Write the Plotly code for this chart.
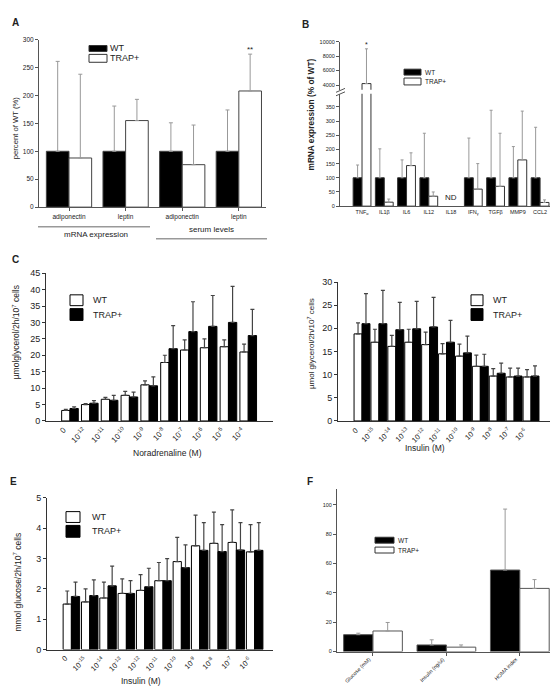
import plotly.graph_objects as go

W, H = 558, 686
FONT = "Liberation Sans, Arial, sans-serif"

# ---------------- DATA ----------------
# Panel A
a_cats = ["adiponectin", "leptin", "adiponectin", "leptin"]
a_wt = [100, 100, 100, 100]
a_wt_up = [261, 181, 151, 174]
a_tr = [88, 155, 76, 208]
a_tr_up = [238, 193, 147, 274]

# Panel B
b_cats = ["TNF<sub>α</sub>", "IL1β", "IL6", "IL12", "IL18", "IFN<sub>γ</sub>", "TGFβ", "MMP9", "CCL2"]
b_wt = [100, 100, 100, 100, None, 100, 100, 100, 100]
b_wt_up = [145, 202, 163, 257, None, 240, 338, 210, 278]
b_tr = [4200, 14, 143, 35, None, 60, 70, 163, 13]
b_tr_up = [9000, 25, 188, 50, None, 150, 257, 335, 22]
b_low_ticks = [0, 50, 100, 150, 200, 250, 300, 350]
b_up_ticks = [4000, 6000, 8000, 10000]

# Panel C
c_cats = ["0", "10<sup>-12</sup>", "10<sup>-11</sup>", "10<sup>-10</sup>", "10<sup>-9</sup>",
          "10<sup>-8</sup>", "10<sup>-7</sup>", "10<sup>-6</sup>", "10<sup>-5</sup>", "10<sup>-4</sup>"]
c_wt = [3.2, 5.0, 6.6, 7.8, 11.0, 17.8, 21.6, 22.3, 22.6, 21.0]
c_wt_up = [3.5, 5.3, 7.2, 9.0, 12.2, 20.0, 24.7, 25.0, 24.7, 23.4]
c_tr = [3.8, 5.4, 6.3, 7.3, 10.7, 22.0, 27.2, 28.8, 30.0, 26.0]
c_tr_up = [4.3, 6.2, 7.8, 8.8, 13.4, 29.0, 36.3, 38.2, 41.0, 34.0]

# Panel D
d_cats = ["0", "10<sup>-15</sup>", "10<sup>-14</sup>", "10<sup>-13</sup>", "10<sup>-12</sup>", "10<sup>-11</sup>",
          "10<sup>-10</sup>", "10<sup>-9</sup>", "10<sup>-8</sup>", "10<sup>-7</sup>", "10<sup>-6</sup>"]
d_wt = [18.8, 17.0, 16.1, 17.0, 16.5, 14.5, 14.0, 11.8, 9.7, 9.5, 9.5]
d_wt_up = [21.2, 19.8, 18.5, 19.8, 19.2, 16.7, 16.6, 14.2, 11.3, 11.4, 11.1]
d_tr = [21.0, 21.0, 19.7, 19.9, 20.3, 17.0, 14.7, 11.8, 10.3, 9.7, 9.7]
d_tr_up = [27.5, 28.2, 25.6, 25.8, 26.7, 21.7, 18.3, 14.4, 12.5, 11.4, 11.9]

# Panel E
e_cats = d_cats
e_wt = [1.5, 1.57, 1.7, 1.85, 1.95, 2.27, 2.9, 3.42, 3.5, 3.53, 3.22]
e_wt_up = [1.93, 2.0, 2.22, 2.33, 2.47, 2.87, 3.7, 4.43, 4.53, 4.6, 4.12]
e_tr = [1.75, 1.78, 2.1, 1.85, 2.07, 2.27, 2.7, 3.27, 3.23, 3.28, 3.27]
e_tr_up = [2.22, 2.3, 2.75, 2.27, 2.68, 3.0, 3.45, 4.18, 4.12, 4.18, 4.18]

# Panel F
f_cats = ["Glucose (mM)", "Insulin (ng/ul)", "HOMA index"]
f_wt = [11.5, 4.5, 55.5]
f_wt_up = [12.5, 8.0, 97.0]
f_tr = [14.0, 3.0, 43.0]
f_tr_up = [19.8, 4.5, 49.0]


# ---------------- helpers ----------------
def px(x):
    return x / W


def py(y):
    return 1 - y / H


def err(vals, ups):
    return [None if v is None else u - v for v, u in zip(vals, ups)]


fig = go.Figure()


def bars(xa, ya, vals, ups, w, left, fill, line, ecol, ethick=1, ecap=2, lw=1):
    n = len(vals)
    fig.add_trace(go.Bar(
        x=list(range(n)), y=vals, width=w, offset=-w if left else 0,
        marker=dict(color=fill, line=dict(color=line, width=lw)),
        error_y=dict(type="data", symmetric=False, array=err(vals, ups),
                     arrayminus=[0] * n, color=ecol, thickness=ethick, width=ecap),
        xaxis=xa, yaxis=ya, showlegend=False, hoverinfo="skip"))


# A
bars("x", "y", a_wt, a_wt_up, 0.4, True, "black", "#444", "#999")
bars("x", "y", a_tr, a_tr_up, 0.4, False, "white", "#444", "#999")
# B lower & upper
for ya in ["y2", "y3"]:
    bars("x2", ya, b_wt, b_wt_up, 0.4, True, "black", "#333", "#999", ecap=1.5)
    bars("x2", ya, b_tr, b_tr_up, 0.4, False, "white", "#333", "#999", ecap=1.5)
# C
bars("x4", "y4", c_wt, c_wt_up, 0.42, True, "white", "black", "#444", 1.2, 2)
bars("x4", "y4", c_tr, c_tr_up, 0.42, False, "black", "black", "#444", 1.2, 2)
# D
bars("x5", "y5", d_wt, d_wt_up, 0.47, True, "white", "black", "#444", 1.2, 2)
bars("x5", "y5", d_tr, d_tr_up, 0.47, False, "black", "black", "#444", 1.2, 2)
# E
bars("x6", "y6", e_wt, e_wt_up, 0.45, True, "white", "black", "#444", 1.2, 2)
bars("x6", "y6", e_tr, e_tr_up, 0.45, False, "black", "black", "#444", 1.2, 2)
# F
bars("x7", "y7", f_wt, f_wt_up, 0.4, True, "black", "#555", "#999", ecap=2)
bars("x7", "y7", f_tr, f_tr_up, 0.4, False, "white", "#555", "#999", ecap=2)


def xax(dom, rng, anchor, ticktext, size, show=True, ticks="", lc="#333"):
    return dict(domain=[px(dom[0]), px(dom[1])], range=rng, anchor=anchor,
                tickmode="array", tickvals=list(range(len(ticktext))), ticktext=ticktext,
                showticklabels=show, tickfont=dict(size=size, color="#222", family=FONT),
                showline=True, linecolor=lc, linewidth=1, ticks=ticks, ticklen=3,
                tickcolor=lc, showgrid=False, zeroline=False, fixedrange=True)


def yax(dom, rng, anchor, tickvals, size, lc="#333"):
    return dict(domain=[py(dom[1]), py(dom[0])], range=rng, anchor=anchor,
                tickmode="array", tickvals=tickvals, ticktext=[str(v) for v in tickvals],
                tickfont=dict(size=size, color="#222", family=FONT),
                showline=True, linecolor=lc, linewidth=1, ticks="outside", ticklen=3,
                tickcolor=lc, showgrid=False, zeroline=False, fixedrange=True)


layout = dict(
    width=W, height=H, margin=dict(l=0, r=0, t=0, b=0),
    paper_bgcolor="white", plot_bgcolor="white", barmode="overlay",
    font=dict(family=FONT, color="#222"),
    xaxis=xax([31, 258], [-0.53, 3.48], "y", a_cats, 6.5, True, "outside", "#555"),
    yaxis=yax([27, 197], [0, 300], "x", [0, 50, 100, 150, 200, 250, 300], 6.5, "#555"),
    xaxis2=xax([332, 555], [-0.99, 9.03], "y2", b_cats, 5.5, True, "", "#555"),
    yaxis2=yax([82, 196], [0, 396], "x2", b_low_ticks, 5.5, "#555"),
    yaxis3=yax([29, 78], [3333, 10000], "x2", b_up_ticks, 5.5, "#555"),
    xaxis4=xax([38, 265], [-1.21, 10.25], "y4", c_cats, 8, False),
    yaxis4=yax([264, 414], [0, 45], "x4", list(range(0, 50, 5)), 9),
    xaxis5=xax([330, 545], [-1.42, 11.3], "y5", d_cats, 8, False),
    yaxis5=yax([273, 414], [0, 30], "x5", list(range(0, 35, 5)), 9),
    xaxis6=xax([39, 265], [-1.33, 11.0], "y6", e_cats, 8, False),
    yaxis6=yax([492, 646], [0, 5], "x6", [0, 1, 2, 3, 4, 5], 9),
    xaxis7=xax([329, 550], [-0.49, 2.52], "y7", f_cats, 6, False, "outside", "#555"),
    yaxis7=yax([483, 648], [0, 110.7], "x7", [0, 20, 40, 60, 80, 100], 5.5, "#555"),
)
fig.update_layout(**layout)

ann = []


def text(x, y, t, size, bold=False, angle=0, xanchor="center", color="#222"):
    ann.append(dict(x=px(x), y=py(y), xref="paper", yref="paper", text=f"<b>{t}</b>" if bold else t,
                    showarrow=False, textangle=angle, xanchor=xanchor, yanchor="middle",
                    font=dict(size=size, family=FONT, color=color)))


def rot_ticks(xref, labels, ytop, size, dx=0.0):
    # slanted category labels, end of each label at its category position
    for i, lab in enumerate(labels):
        ann.append(dict(x=i + dx, y=py(ytop), xref=xref, yref="paper", text=lab,
                        showarrow=False, textangle=-45, xanchor="right", yanchor="top",
                        font=dict(size=size, family=FONT, color="#222")))


shapes = []


def box(x0, y0, x1, y1, fill, line="black", lw=1):
    shapes.append(dict(type="rect", xref="paper", yref="paper", x0=px(x0), x1=px(x1),
                       y0=py(y1), y1=py(y0), fillcolor=fill, line=dict(color=line, width=lw)))


def seg(x0, y0, x1, y1, color="#888", lw=1):
    shapes.append(dict(type="line", xref="paper", yref="paper", x0=px(x0), x1=px(x1),
                       y0=py(y0), y1=py(y1), line=dict(color=color, width=lw)))


# panel letters
text(7, 10, "A", 10, True)
text(297, 12, "B", 10, True)
text(7, 250, "C", 10, True)
text(5, 475, "E", 10, True)
text(302, 475, "F", 10, True)

# A extras
text(7, 117, "percent of WT (%)", 7.7, angle=-90)
box(81, 33, 99, 39, "black", "#333")
box(81, 42, 99, 50, "white", "#333")
text(100, 36, "WT", 9, xanchor="left")
text(100, 46, "TRAP+", 9, xanchor="left")
ann.append(dict(x=3.2, y=283, xref="x", yref="y", text="**", showarrow=False,
                font=dict(size=8, family=FONT, color="#222")))
seg(30, 217, 142, 217, "#999", 1.5)
seg(148, 229, 259, 229, "#999", 1.5)
text(88, 225, "mRNA expression", 8)
text(203, 220, "serum levels", 8)

# B extras
text(303, 103, "mRNA expression (% of WT)", 8.3, True, -90)
box(396, 57, 413, 63, "black", "#333")
box(396, 66, 413, 73, "white", "#333")
text(415, 60, "WT", 6.5, xanchor="left")
text(415, 69.5, "TRAP+", 6.5, xanchor="left")
ann.append(dict(x=0.2, y=9550, xref="x2", yref="y3", text="*", showarrow=False,
                font=dict(size=7, family=FONT, color="#222")))
ann.append(dict(x=4, y=32, xref="x2", yref="y2", text="ND", showarrow=False,
                font=dict(size=8, family=FONT, color="#222")))
box(328, 78.5, 337, 82, "white", "white", 0)
seg(328, 80.5, 337, 76.5, "#555", 1)
seg(328, 84, 337, 80, "#555", 1)

# C extras
rot_ticks("x4", c_cats, 416, 8, 0.05)
text(8, 324, "µmolglycerol/2h/10<sup>7</sup> cells", 8.5, angle=-90)
text(159, 447, "Noradrenaline (M)", 8.5)
box(62, 286, 75, 297, "white", "black")
box(62, 300, 75, 312, "black", "black")
text(83, 291, "WT", 9, xanchor="left")
text(83, 306, "TRAP+", 9, xanchor="left")

# D extras
rot_ticks("x5", d_cats, 416, 7.5, 0.05)
text(303, 336, "µmol glycerol/2h/10<sup>7</sup> cells", 8, angle=-90)
text(417, 441, "Insulin (M)", 8.5)
box(463, 286, 475, 297, "white", "black")
box(463, 300, 475, 312, "black", "black")
text(483, 291, "WT", 9, xanchor="left")
text(483, 306, "TRAP+", 9, xanchor="left")

# E extras
rot_ticks("x6", e_cats, 648, 7.5, 0.05)
text(10, 578, "mmol glucose/2h/10<sup>7</sup> cells", 8.5, angle=-90)
text(133, 678, "Insulin (M)", 8.5)
box(58, 506, 72, 517, "white", "black")
box(58, 520, 72, 532, "black", "black")
text(82, 511, "WT", 9, xanchor="left")
text(82, 526, "TRAP+", 9, xanchor="left")

# F extras
rot_ticks("x7", f_cats, 650, 5.3, 0.02)
box(367, 532, 386, 538, "black", "#333")
box(367, 542, 386, 548, "white", "#333")
text(388, 535, "WT", 6.5, xanchor="left")
text(388, 545, "TRAP+", 6.5, xanchor="left")

fig.update_layout(annotations=ann, shapes=shapes)
fig.write_html("out.html")
